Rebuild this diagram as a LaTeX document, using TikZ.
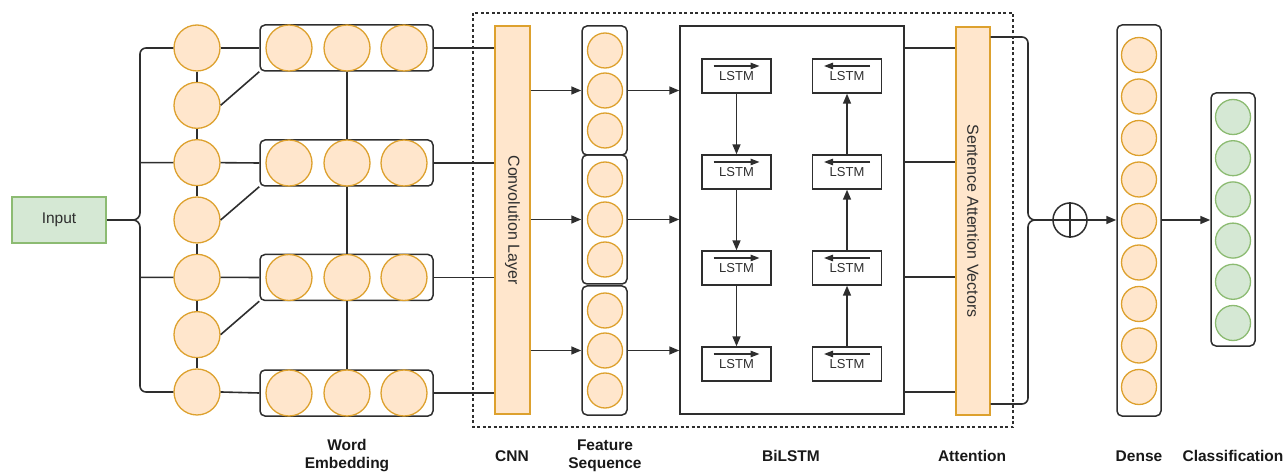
\documentclass[tikz,border=0pt]{standalone}
\usepackage{fontspec}
\setmainfont{Liberation Sans}
\usetikzlibrary{arrows, arrows.meta}

\definecolor{orfill}{HTML}{FFE6CC}
\definecolor{ordraw}{HTML}{DDA12E}
\definecolor{grfill}{HTML}{D5E8D4}
\definecolor{grdraw}{HTML}{8CBB72}
\definecolor{ln}{HTML}{2E2E2E}

\tikzset{
  conn/.style={draw=ln, line width=1.6pt},
  neuron/.style={circle, draw=ordraw, fill=orfill, line width=1.3pt, minimum size=46pt, inner sep=0pt},
  cell/.style={circle, draw=ordraw, fill=orfill, line width=1.3pt, minimum size=35pt, inner sep=0pt},
  outcell/.style={circle, draw=grdraw, fill=grfill, line width=1.3pt, minimum size=35pt, inner sep=0pt},
  group/.style={rectangle, rounded corners=5pt, draw=ln, line width=1.5pt},
  bar/.style={rectangle, draw=ordraw, fill=orfill, line width=1.3pt, minimum width=35pt, minimum height=388pt,
    font=\fontsize{16}{18}\selectfont, text=ln},
  lstm/.style={rectangle, draw=ln, line width=1.4pt, minimum width=69pt, minimum height=34pt,
    font=\fontsize{13}{15}\selectfont, text=ln},
  title/.style={font=\fontsize{15.5}{18}\selectfont\bfseries, align=center, text=black!90}
}

\begin{document}
\begin{tikzpicture}[x=1pt, y=1pt, >={Triangle[length=10pt, width=8pt]}]
%\draw[step=50,gray,very thin] (0,0) grid (1286,-473); %background grid
\useasboundingbox (0,0) rectangle (1286,-473);

% input and first column
\node[rectangle, draw=grdraw, fill=grfill, line width=1.3pt, minimum width=94pt, minimum height=46pt,
  font=\fontsize{15.5}{18}\selectfont, text=ln] (inp) at (59,-220) {Input};

\foreach \i in {1,...,7}
  \node[neuron] (e\i) at (197,{-48-(\i-1)*57.33}) {};
\foreach \i [count=\j from 2] in {1,...,6}
  \draw[conn] (e\i) -- (e\j);

\coordinate (lb) at (133,-220);
\draw[conn] (inp.east) -- (lb);
\draw[conn] (e1.west) -- (146,-48) to[out=180,in=90] (140,-54) -- (140,-213) to[out=-90,in=0] (lb)
  to[out=0,in=90] (140,-227) -- (140,-386) to[out=-90,in=180] (146,-392) -- (e7.west);
\draw[conn] (140,-162.7) -- (e3.west);
\draw[conn] (140,-277.3) -- (e5.west);

% word embedding
\foreach \r/\y in {1/48,2/163,3/277.5,4/393} {
  \node[group, minimum width=173pt, minimum height=46pt] (we\r) at (346.5,-\y) {};
  \foreach \c/\x in {1/289,2/347,3/404}
    \node[neuron] (w\r\c) at (\x,-\y) {};
}
\draw[conn] (e1.east) -- (we1.west);
\draw[conn] (e2.east) -- (we1.south west);
\draw[conn] (e3.east) -- (we2.west);
\draw[conn] (e4.east) -- (we2.south west);
\draw[conn] (e5.east) -- (we3.west);
\draw[conn] (e6.east) -- (we3.south west);
\draw[conn] (e7.east) -- (we4.west);
\draw[conn] (w12) -- (w22);
\draw[conn] (w22) -- (w32);
\draw[conn] (w32) -- (w42);

% cnn
\draw[ln, line width=1.2pt, dash pattern=on 3pt off 2.5pt] (473,-13) rectangle (1013,-427);
\node[bar] (conv) at (512.5,-220) {\rotatebox{-90}{Convolution Layer}};
\foreach \r in {1,...,4}
  \draw[conn] (we\r.east) -- (we\r.east -| conv.west);

% feature sequence
\foreach \r/\y in {1/90.5,2/219.5,3/350.5} {
  \node[group, minimum width=45pt, minimum height=129pt] (fs\r) at (604.5,-\y) {};
  \foreach \c/\dy in {1/40,2/0,3/-40}
    \node[cell] (fs\r\c) at (605,{-\y+\dy}) {};
}

% bilstm
\node[rectangle, draw=ln, line width=1.5pt, minimum width=224pt, minimum height=388pt] (bilstm) at (792,-220) {};
\foreach \r in {1,...,3} {
  \draw[conn, ->] (conv.east |- fs\r) -- (fs\r.west);
  \draw[conn, ->] (fs\r.east) -- (fs\r.east -| bilstm.west);
}
\foreach \i/\y in {1/76,2/172,3/268,4/364} {
  \node[lstm] (f\i) at (736.5,-\y) {\raisebox{-4pt}{LSTM}};
  \node[lstm] (b\i) at (847,-\y) {\raisebox{-4pt}{LSTM}};
  \draw[ln, line width=1.3pt, -{Triangle[length=9pt, width=6.5pt]}] ([xshift=-23pt, yshift=10pt]f\i.center) -- ([xshift=23pt, yshift=10pt]f\i.center);
  \draw[ln, line width=1.3pt, -{Triangle[length=9pt, width=6.5pt]}] ([xshift=23pt, yshift=10pt]b\i.center) -- ([xshift=-23pt, yshift=10pt]b\i.center);
}
\draw[conn, ->] (f1) -- (f2);
\draw[conn, ->] (f2) -- (f3);
\draw[conn, ->] (f3) -- (f4);
\draw[conn, ->] (b4) -- (b3);
\draw[conn, ->] (b3) -- (b2);
\draw[conn, ->] (b2) -- (b1);

% attention
\node[bar, minimum width=34pt] (att) at (973,-221) {\rotatebox{-90}{Sentence Attention Vectors}};
\foreach \y in {48,162,277,392}
  \draw[conn] (bilstm.east |- 0,-\y) -- (att.west |- 0,-\y);

\coordinate (rb) at (1035,-220);
\draw[conn] (att.east |- 0,-37) -- (1022,-37) to[out=0,in=90] (1028,-43) -- (1028,-213) to[out=-90,in=180] (rb)
  to[out=180,in=90] (1028,-227) -- (1028,-398) to[out=-90,in=0] (1022,-404) -- (att.east |- 0,-404);
\node[circle, draw=ln, line width=1.5pt, minimum size=34pt, inner sep=0pt] (plus) at (1070,-220) {};
\draw[conn] (plus.north) -- (plus.south);
\draw[conn] (plus.west) -- (plus.east);
\draw[conn] (rb) -- (plus.west);

% dense and output
\node[group, minimum width=44pt, minimum height=391pt] (dense) at (1139,-220.5) {};
\foreach \i in {1,...,9}
  \node[cell] (d\i) at (1139,{-55-(\i-1)*41.5}) {};
\node[group, minimum width=44pt, minimum height=253pt] (cls) at (1233,-219.5) {};
\foreach \i in {1,...,6}
  \node[outcell] (k\i) at (1233,{-117-(\i-1)*41.2}) {};
\draw[conn, ->] (plus.east) -- (plus.east -| dense.west);
\draw[conn, ->] (dense.east |- plus) -- (cls.west |- plus);

% titles
\node[title] (t1) at (347,-456) {Word\\Embedding};
\node[title] (t2) at (512,-456) {CNN};
\node[title] (t3) at (605,-456) {Feature\\Sequence};
\node[title] (t4) at (791,-456) {BiLSTM};
\node[title] (t5) at (972,-456) {Attention};
\node[title] (t6) at (1139,-456) {Dense};
\node[title] (t7) at (1233,-456) {Classification};

\end{tikzpicture}
\end{document}
